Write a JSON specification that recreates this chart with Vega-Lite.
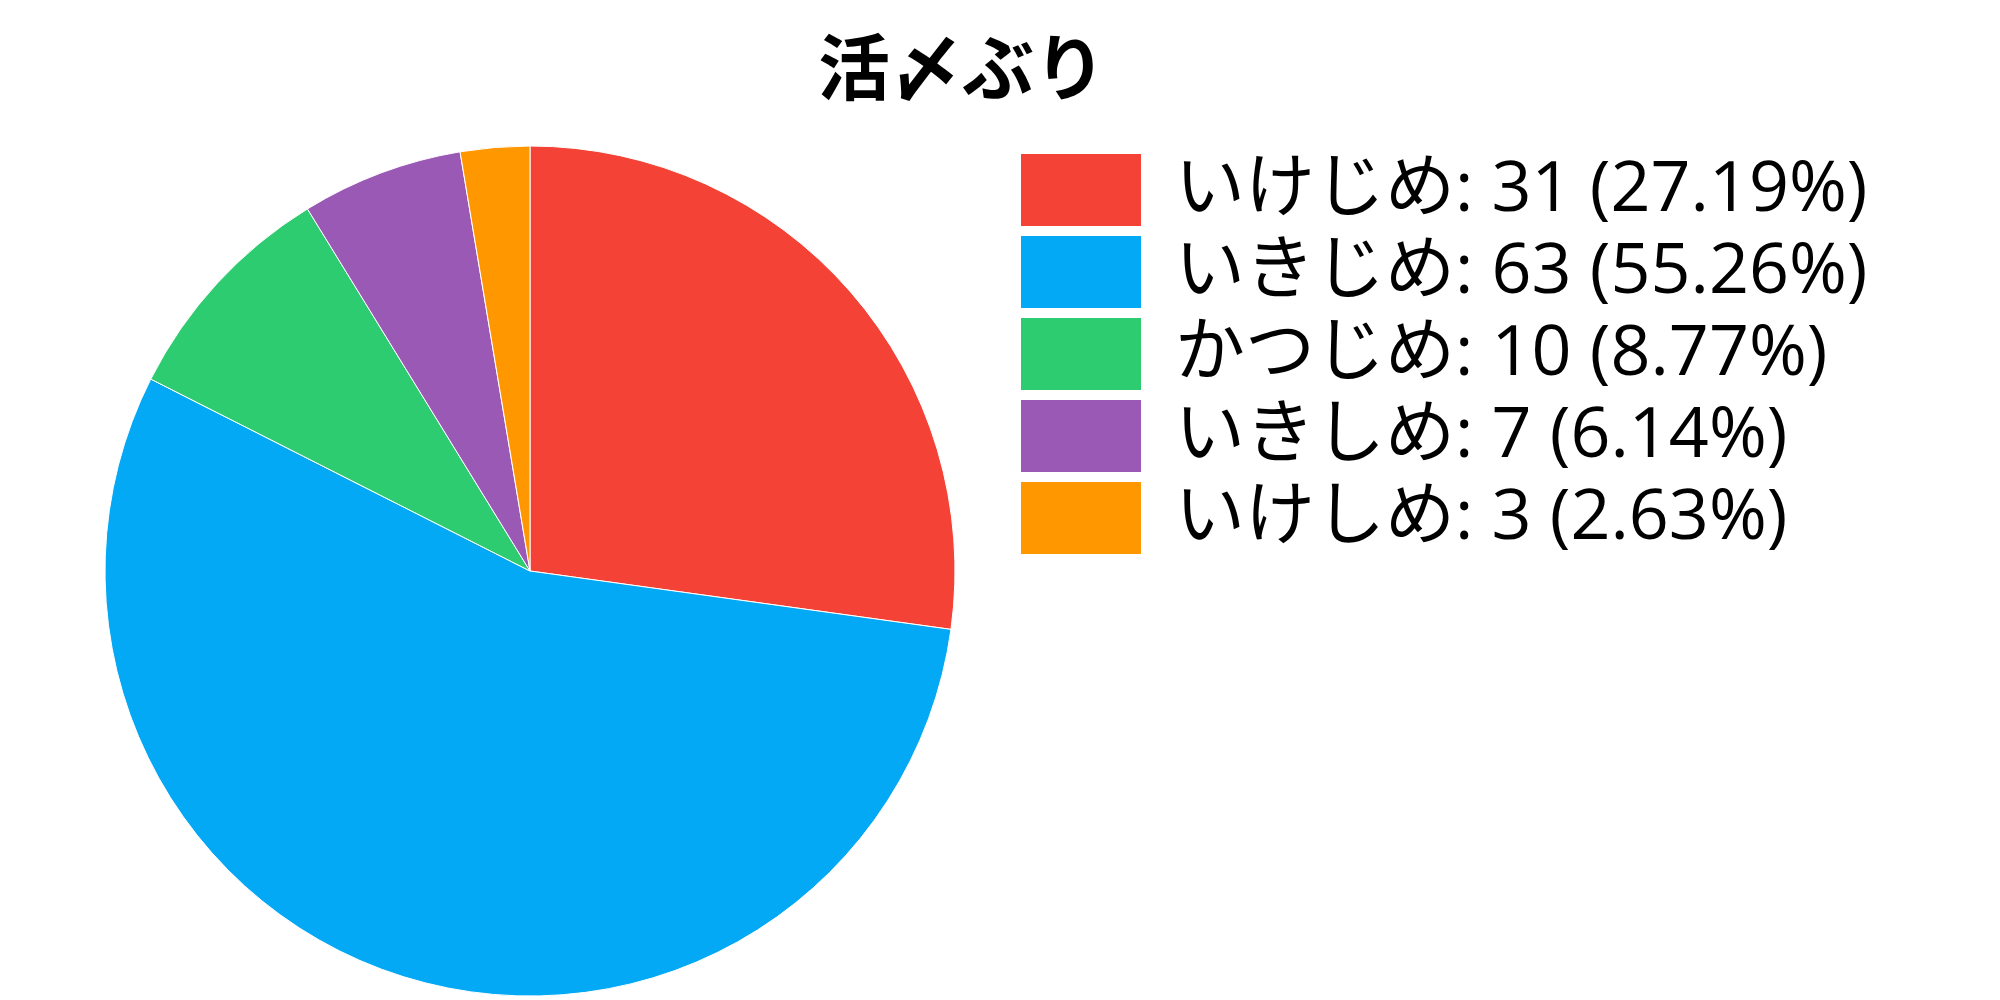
{
  "$schema": "https://vega.github.io/schema/vega-lite/v6.json",
  "width": 850,
  "height": 850,
  "autosize": {"type": "none"},
  "padding": {"left": 105, "top": 146, "right": 1045, "bottom": 4},
  "background": "white",
  "title": {
    "text": "活〆ぶり",
    "font": "Noto Sans CJK JP",
    "fontSize": 72,
    "fontWeight": "bold",
    "color": "black",
    "anchor": "middle",
    "frame": "group",
    "dx": 432,
    "baseline": "alphabetic",
    "offset": -22
  },
  "data": {
    "values": [
      {"label": "いけじめ: 31 (27.19%)", "count": 31, "order": 1},
      {"label": "いきじめ: 63 (55.26%)", "count": 63, "order": 2},
      {"label": "かつじめ: 10 (8.77%)", "count": 10, "order": 3},
      {"label": "いきしめ: 7 (6.14%)", "count": 7, "order": 4},
      {"label": "いけしめ: 3 (2.63%)", "count": 3, "order": 5}
    ]
  },
  "mark": {"type": "arc", "stroke": "white", "strokeWidth": 1},
  "encoding": {
    "theta": {"field": "count", "type": "quantitative", "stack": true},
    "order": {"field": "order", "type": "quantitative"},
    "color": {
      "field": "label",
      "type": "nominal",
      "sort": ["いけじめ: 31 (27.19%)", "いきじめ: 63 (55.26%)", "かつじめ: 10 (8.77%)", "いきしめ: 7 (6.14%)", "いけしめ: 3 (2.63%)"],
      "scale": {
        "domain": ["いけじめ: 31 (27.19%)", "いきじめ: 63 (55.26%)", "かつじめ: 10 (8.77%)", "いきしめ: 7 (6.14%)", "いけしめ: 3 (2.63%)"],
        "range": ["#F44336", "#03A9F4", "#2ECC71", "#9B59B6", "#FF9800"]
      },
      "legend": {
        "title": null,
        "orient": "none",
        "legendX": 941,
        "legendY": 9,
        "padding": 0,
        "symbolType": "M-2,-1.2H2V1.2H-2Z",
        "symbolSize": 3600,
        "symbolStrokeWidth": 0,
        "symbolOpacity": 1,
        "labelFont": "Open Sans, Noto Sans CJK JP",
        "labelFontSize": 70,
        "labelColor": "black",
        "labelOffset": 59,
        "labelLimit": 0,
        "rowPadding": 10
      }
    }
  }
}
